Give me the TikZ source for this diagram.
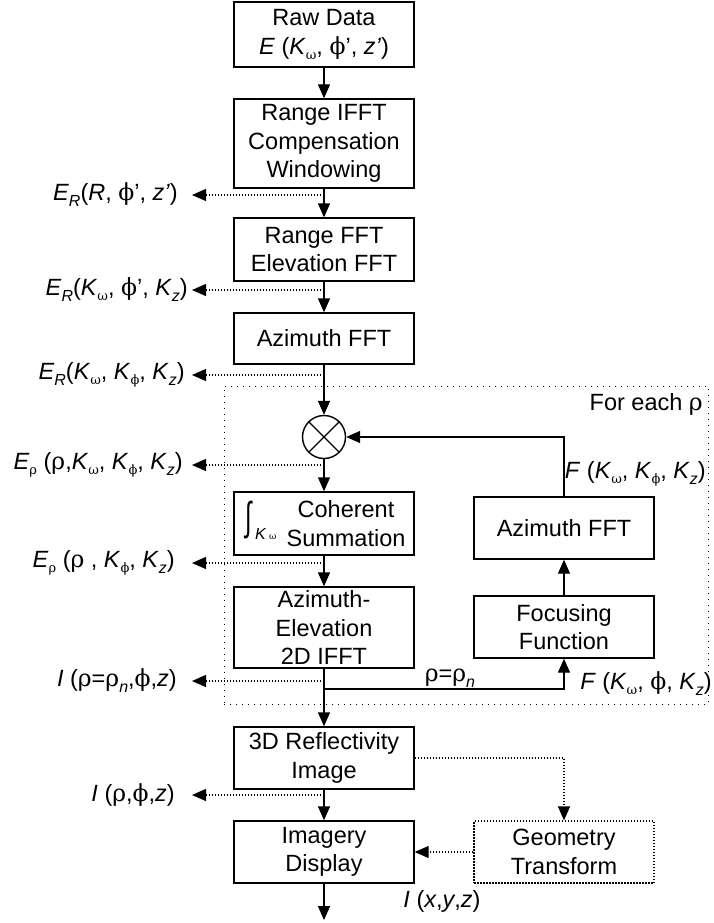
\documentclass[tikz,border=0pt]{standalone}
\usepackage{fontspec}
\setmainfont{Liberation Sans}
\newfontfamily\gr{DejaVu Serif}
\usetikzlibrary{arrows.meta}
\newcommand\lo[1]{\raisebox{-6pt}{\fontsize{16}{16}\selectfont #1}}
\newcommand\glo[1]{\raisebox{-5pt}{\fontsize{13}{13}\selectfont\gr #1}}
\newcommand\g[1]{{\gr #1}}
\newcommand\pr{\symbol{"27}}
\begin{document}
\begin{tikzpicture}[x=1pt,y=-1pt,
  every node/.style={font=\fontsize{23.5}{28.5}\selectfont, inner sep=0pt},
  box/.style={draw, line width=1.4pt, minimum width=180pt, align=center},
  arr/.style={-{Triangle[length=14pt,width=12pt]}, line width=1.4pt},
  dotarr/.style={arr, line width=1.2pt, dash pattern=on 1.5pt off 1.5pt},
  lab/.style={anchor=east}]
\useasboundingbox (0,0) rectangle (713,923);
% main column
\node[box, minimum height=65pt] (raw) at (324,34.5) {Raw Data\\\textit{E} (\textit{K}\glo{ω}, \g{ϕ}\pr, \textit{z\pr})};
\node[box, minimum height=89pt] (ifft) at (324,143.5) {Range IFFT\\Compensation\\Windowing};
\node[box, minimum height=63pt] (fft) at (324,249.5) {Range FFT\\Elevation FFT};
\node[box, minimum height=51pt] (az) at (324,338.5) {Azimuth FFT};
\node[draw, circle, line width=1.4pt, minimum size=43pt] (mul) at (324,437) {};
\draw[line width=1.4pt] (mul.45) -- (mul.225) (mul.135) -- (mul.315);
\node[box, minimum height=63pt] (coh) at (324,523.5) {};
\node[align=center] (cohtxt) at (346,523.5) {Coherent\\Summation};
\node (int) at (249,520) {\scalebox{1}[1.7]{∫}};
\node[anchor=base west] (kw) at (255,539) {\fontsize{16}{16}\selectfont\textit{K}\,{\fontsize{9}{9}\selectfont\gr ω}};
\node[box, minimum height=81pt] (azel) at (324,627.5) {Azimuth-\\Elevation\\2D IFFT};
\node[box, minimum height=62pt] (refl) at (324,758) {3D Reflectivity\\Image};
\node[box, minimum height=62pt] (disp) at (324,852) {Imagery\\Display};
% right column
\node[box, minimum height=62pt] (raz) at (564,528) {Azimuth FFT};
\node[box, minimum height=62pt] (foc) at (564,627) {Focusing\\Function};
\node[box, minimum height=62pt, line width=1.2pt, dash pattern=on 1.5pt off 1.5pt] (geo) at (564,852) {Geometry\\Transform};
% loop frame
\node[draw, line width=1pt, dash pattern=on 1pt off 5pt, minimum width=484pt, minimum height=318pt] (loop) at (466,545) {};
\node[anchor=east] (foreach) at (703,404) {For each \g{ρ}};
% main arrows
\draw[arr] (raw) -- (ifft);
\draw[arr] (ifft) -- (fft);
\draw[arr] (fft) -- (az);
\draw[arr] (az) -- (mul);
\draw[arr] (mul) -- (coh);
\draw[arr] (coh) -- (azel);
\draw[arr] (azel) -- (refl);
\draw[arr] (refl) -- (disp);
\coordinate (out) at (324,920);
\draw[arr] (disp) -- (out);
% feedback
\draw[arr] (foc) -- (raz);
\draw[arr] (raz.north) |- (mul.east);
\coordinate (sp) at (324,689);
\draw[arr] (sp) -| (foc.south);
\node (rhon) at (450,678) {\g{ρ}=\g{ρ}\lo{\textit{n}}};
\node[anchor=east] (flab1) at (706,474) {\textit{F} (\textit{K}\glo{ω}, \textit{K}\glo{ϕ}, \textit{K}\lo{\textit{z}})};
\node[anchor=east] (flab2) at (712,684) {\textit{F} (\textit{K}\glo{ω}, \g{ϕ}, \textit{K}\lo{\textit{z}})};
% geometry
\draw[dotarr] (refl.east) -| (geo.north);
\draw[dotarr] (geo.west) -- (disp.east);
\node (ixyz) at (442,901) {\textit{I} (\textit{x},\textit{y},\textit{z})};
% branches
\foreach \y/\n in {195/1,290/2,375/3,465/4,563/5,681/6,795/7}{
  \coordinate (b\n) at (324,\y);
  \coordinate (t\n) at (192,\y);
  \draw[dotarr] (b\n) -- (t\n);
}
\node[lab] (l1) at (178,195) {\textit{E}\lo{\textit{R}}(\textit{R}, \g{ϕ}\pr, \textit{z\pr})};
\node[lab] (l2) at (188,290) {\textit{E}\lo{\textit{R}}(\textit{K}\glo{ω}, \g{ϕ}\pr, \textit{K}\lo{\textit{z}})};
\node[lab] (l3) at (185,375) {\textit{E}\lo{\textit{R}}(\textit{K}\glo{ω}, \textit{K}\glo{ϕ}, \textit{K}\lo{\textit{z}})};
\node[lab] (l4) at (183,465) {\textit{E}\glo{ρ} (\g{ρ},\textit{K}\glo{ω}, \textit{K}\glo{ϕ}, \textit{K}\lo{\textit{z}})};
\node[lab] (l5) at (175,563) {\textit{E}\glo{ρ} (\g{ρ} , \textit{K}\glo{ϕ}, \textit{K}\lo{\textit{z}})};
\node[lab] (l6) at (177,681) {\textit{I} (\g{ρ}=\g{ρ}\lo{\textit{n}},\g{ϕ},\textit{z})};
\node[lab] (l7) at (175,795) {\textit{I} (\g{ρ},\g{ϕ},\textit{z})};
\end{tikzpicture}
\end{document}
